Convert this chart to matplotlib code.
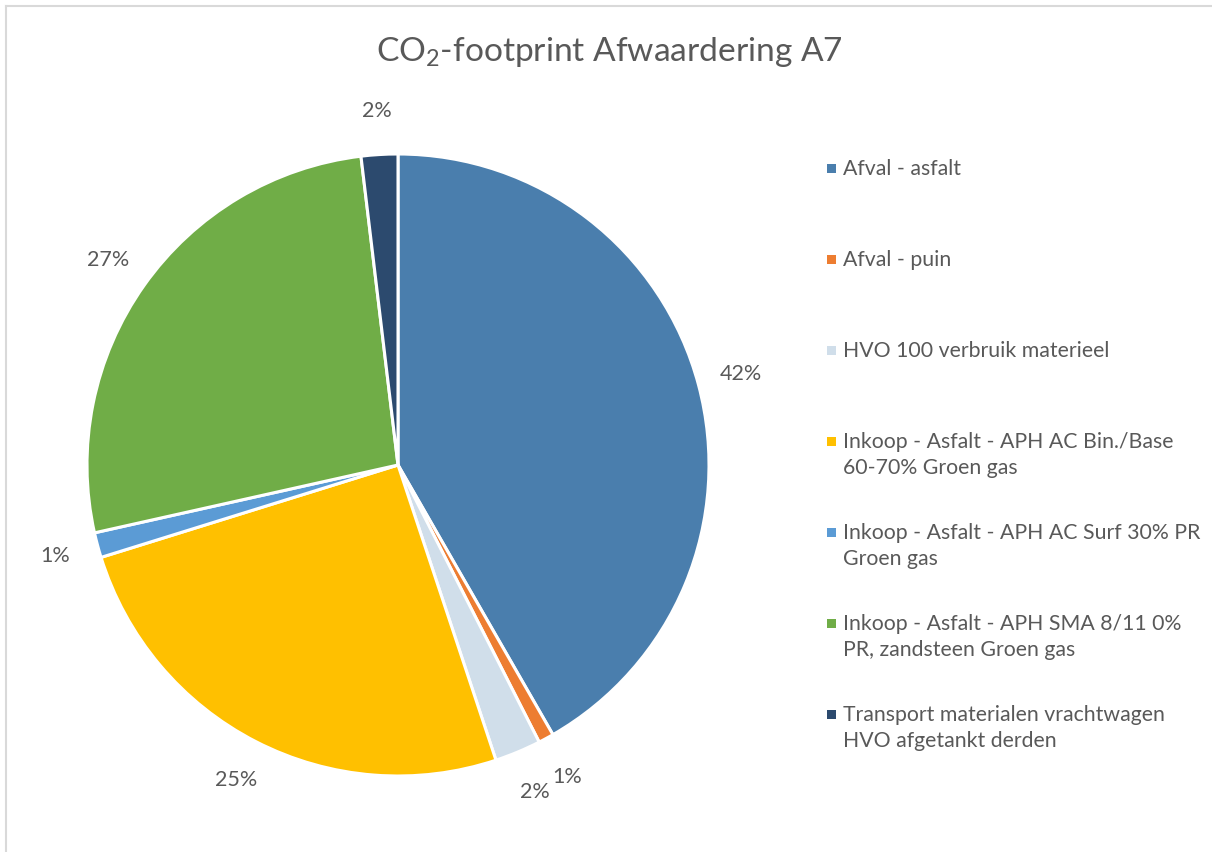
import matplotlib
matplotlib.use("Agg")
import matplotlib.pyplot as plt
from matplotlib.patches import Rectangle
from matplotlib.lines import Line2D

plt.rcParams['font.family'] = ['Lato', 'DejaVu Sans']
plt.rcParams['mathtext.fontset'] = 'custom'
plt.rcParams['mathtext.rm'] = 'Lato'
plt.rcParams['mathtext.it'] = 'Lato:italic'

TEXT = "#595959"

# CO2 share per source (percent)
categories = [
    "Afval - asfalt",
    "Afval - puin",
    "HVO 100 verbruik materieel",
    "Inkoop - Asfalt - APH AC Bin./Base\n60-70% Groen gas",
    "Inkoop - Asfalt - APH AC Surf 30% PR\nGroen gas",
    "Inkoop - Asfalt - APH SMA 8/11 0%\nPR, zandsteen Groen gas",
    "Transport materialen vrachtwagen\nHVO afgetankt derden",
]
shares = [41.7, 0.8, 2.4, 25.3, 1.3, 26.6, 1.9]
colors = ["#4A7EAD", "#ED7D31", "#D0DEEA", "#FFC000", "#5B9BD5", "#70AD47", "#2C4A6E"]

W, H = 1212, 852
fig = plt.figure(figsize=(W / 100, H / 100), dpi=100)

# pie area
cx, cy, r = 398, 465, 311
ax = fig.add_axes([(cx - r) / W, (H - cy - r) / H, 2 * r / W, 2 * r / H])
wedges, _, pcts = ax.pie(
    shares, colors=colors, startangle=90, counterclock=False,
    autopct=lambda p: f"{p:.0f}%", pctdistance=1.14, radius=1,
    wedgeprops=dict(edgecolor="white", linewidth=2.2),
    textprops=dict(color=TEXT, fontsize=15.5),
)
ax.set_xlim(-1, 1)
ax.set_ylim(-1, 1)
ax.set_aspect("equal")
ax.axis("off")

fig.text(0.503, 1 - 52 / H, r"CO$_2$-footprint Afwaardering A7",
         ha="center", va="center", fontsize=24.1, color=TEXT)

# legend, first lines evenly spaced
lx, ly0, step = 843, 168, 91
for i, (lab, col) in enumerate(zip(categories, colors)):
    y = ly0 + i * step
    fig.patches.append(Rectangle(((lx - 16) / W, 1 - (y + 4.5) / H), 9 / W, 9 / H,
                                 transform=fig.transFigure, facecolor=col, edgecolor="none"))
    fig.text(lx / W, 1 - (y - 9) / H, lab, ha="left", va="top",
             fontsize=15.3, color=TEXT, linespacing=1.4)

# chart area border (top and left edges)
border = dict(color="#D9D9D9", linewidth=1.5, transform=fig.transFigure)
fig.add_artist(Line2D([6 / W, 1], [1 - 6 / H, 1 - 6 / H], **border))
fig.add_artist(Line2D([6 / W, 6 / W], [0, 1 - 6 / H], **border))

fig.savefig("out.png", dpi=100, facecolor="white")
